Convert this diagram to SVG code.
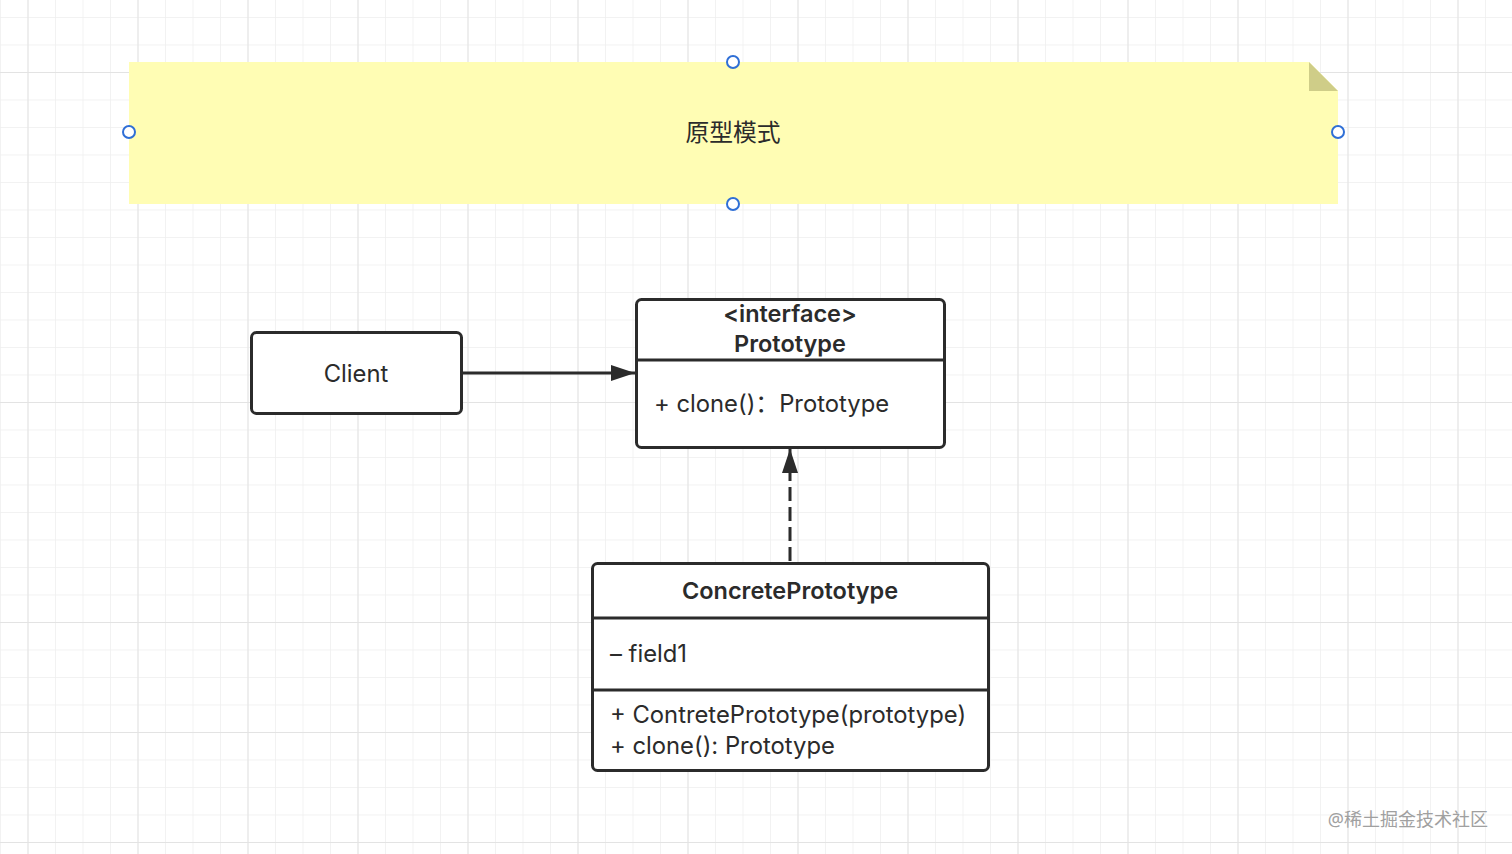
<svg xmlns="http://www.w3.org/2000/svg" width="1512" height="854" viewBox="0 0 1512 854">
<defs>
<pattern id="minor" x="0" y="17" width="27.5" height="27.5" patternUnits="userSpaceOnUse">
<path d="M0 0H27.5M0 0V27.5" fill="none" stroke="#eeeeee" stroke-width="1.5"/>
</pattern>
<pattern id="major" x="27.5" y="72" width="110" height="110" patternUnits="userSpaceOnUse">
<path d="M0 0H110M0 0V110" fill="none" stroke="#e3e3e3" stroke-width="2"/>
</pattern>
<marker id="tri" viewBox="0 0 24 16" refX="24" refY="8" markerWidth="24" markerHeight="16" markerUnits="userSpaceOnUse" orient="auto">
<path d="M0 0L24 8L0 16Z" fill="#2b2b2b"/>
</marker>
</defs>
<style>
.t{font-family:Inter,"Noto Sans CJK SC",sans-serif;font-size:23.8px;fill:#2b2b2b}
.c{font-family:"Noto Sans CJK SC",sans-serif;font-size:23.8px;fill:#2b2b2b}
.b{font-weight:600;font-size:23.5px}
.box{fill:#fff;stroke:#2b2b2b;stroke-width:3}
.div{stroke:#2b2b2b;stroke-width:3}
.h{fill:#fff;stroke:#2f6fd6;stroke-width:2}
.ln{fill:none;stroke:#2b2b2b;stroke-width:3}
</style>
<rect width="1512" height="854" fill="#fff"/>
<rect width="1512" height="854" fill="url(#minor)"/>
<rect width="1512" height="854" fill="url(#major)"/>

<g id="note">
<path d="M129 62H1309L1338 91V204H129Z" fill="#fffdb4"/>
<path d="M1309 62L1338 91H1309Z" fill="#cfcd88"/>
<text class="c" x="733" y="141" text-anchor="middle">原型模式</text>
<circle class="h" cx="733" cy="62" r="6"/>
<circle class="h" cx="129" cy="132" r="6"/>
<circle class="h" cx="1338" cy="132" r="6"/>
<circle class="h" cx="733" cy="204" r="6"/>
</g>

<g id="client">
<rect class="box" x="251.5" y="332.5" width="210" height="81" rx="5"/>
<text class="t" x="356" y="382" text-anchor="middle">Client</text>
</g>

<g id="prototype">
<rect class="box" x="636.5" y="299.5" width="308" height="148" rx="5"/>
<line class="div" x1="636.5" y1="360" x2="944.5" y2="360"/>
<text class="t b" x="790" y="322" text-anchor="middle">&lt;interface&gt;</text>
<text class="t b" x="790" y="352" text-anchor="middle">Prototype</text>
<text class="t" x="654" y="412">+ clone()：Prototype</text>
</g>

<g id="concrete">
<rect class="box" x="592.5" y="563.5" width="396" height="207" rx="5"/>
<line class="div" x1="592.5" y1="618" x2="988.5" y2="618"/>
<line class="div" x1="592.5" y1="690" x2="988.5" y2="690"/>
<text class="t b" x="790" y="599" text-anchor="middle">ConcretePrototype</text>
<text class="t" x="610" y="662">– field1</text>
<text class="t" x="610" y="723">+ ContretePrototype(prototype)</text>
<text class="t" x="610" y="754">+ clone(): Prototype</text>
</g>

<g id="connectors">
<line class="ln" x1="463" y1="373" x2="635" y2="373" marker-end="url(#tri)"/>
<line class="ln" x1="790" y1="561" x2="790" y2="449" stroke-dasharray="14 6" marker-end="url(#tri)"/>
</g>

<text x="1488" y="826" text-anchor="end" style="font-family:'Noto Sans','Noto Sans CJK SC',sans-serif;font-size:18px;fill:#a0a0a0">@稀土掘金技术社区</text>
</svg>
